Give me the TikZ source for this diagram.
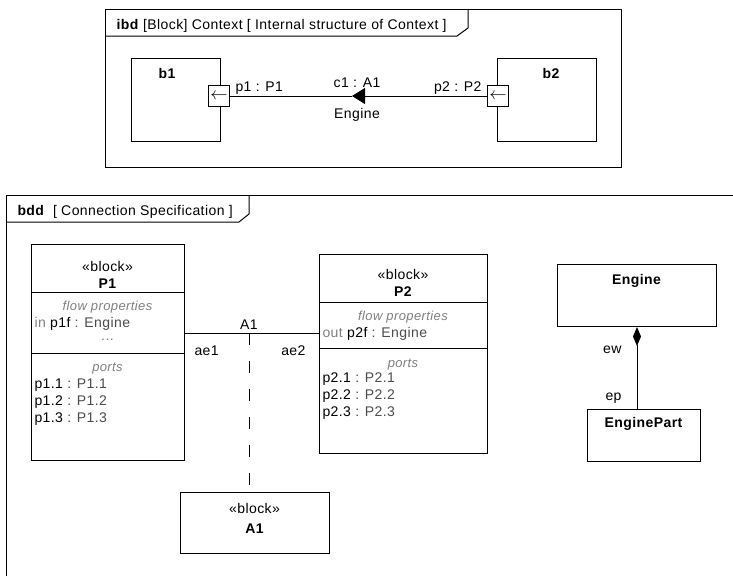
\documentclass[tikz,border=0pt]{standalone}
\usepackage{fontspec}
\setmainfont[LetterSpace=3]{Liberation Sans}
\usepackage{tikz}
\usetikzlibrary{arrows.meta}

\begin{document}
\begin{tikzpicture}[x=1pt, y=-1pt, line width=1pt, >={Triangle[length=13pt, width=16pt]}, every node/.style={font=\fontsize{14}{16}\selectfont, inner sep=0pt}, blk/.style={draw, anchor=north west}, bold/.style={font=\fontsize{14}{16}\selectfont\bfseries}, port/.style={draw, fill=white, minimum size=21pt, font=\fontsize{17}{17}\selectfont}, hdr/.style={font=\fontsize{13}{15}\selectfont\itshape, text=black!50}]
	\fill[white] (0,0) rectangle (733,576);
	\useasboundingbox (0,0) rectangle (733,576);
	\draw (105,9) rectangle (621,167);
	\draw (105,36) -- (457,36) -- (468,28) -- (468,9);
	\node[anchor=base west] (ibdt) at (116,29) {\textbf{ibd} [Block] Context [ Internal structure of Context ]};
	\node[blk, minimum width=89pt, minimum height=83pt] (b1) at (131,58) {};
	\node[blk, minimum width=99pt, minimum height=83pt] (b2) at (497,58) {};
	\node[bold, anchor=base] (b1t) at (167,78) {b1};
	\node[bold, anchor=base] (b2t) at (551,78) {b2};
	\node[port] (p1) at (219,96) {$\leftarrow$};
	\node[port] (p2) at (498,96) {$\leftarrow$};
	\coordinate (c1m) at (352,96);
	\draw[->] (p2) -- (c1m);
	\draw (c1m) -- (p1);
	\node[anchor=base west] (p1t) at (235,91) {p1 : P1};
	\node[anchor=base east] (p2t) at (482,91) {p2 : P2};
	\node[anchor=base] (c1t) at (357,87) {c1 : A1};
	\node[anchor=base] (engt) at (357,118) {Engine};
	\draw (6,576) -- (6,195) -- (733,195);
	\draw (6,222) -- (239,222) -- (249,214) -- (249,195);
	\node[anchor=base west] (bddt) at (17,215) {\textbf{bdd}\ \ [ Connection Specification ]};
	\node[blk, minimum width=153pt, minimum height=216pt] (P1) at (31,244) {};
	\draw (31,292) -- (184,292); \draw (31,353) -- (184,353);
	\node[anchor=base] (P1s) at (107.5,271) {«block»};
	\node[bold, anchor=base] (P1n) at (107.5,288) {P1};
	\node[hdr, anchor=base] (P1f) at (107.5,310) {flow properties};
	\node[anchor=base west] (P1fp) at (34,327) {\textcolor{black!50}{in} p1f \textcolor{black!70}{: Engine}};
	\node[anchor=base, text=black!50] (P1d) at (107.5,340) {...};
	\node[hdr, anchor=base] (P1p) at (107.5,371) {ports};
	\node[anchor=base west] (p11) at (34,388) {p1.1 \textcolor{black!70}{: P1.1}};
	\node[anchor=base west] (p12) at (34,405) {p1.2 \textcolor{black!70}{: P1.2}};
	\node[anchor=base west] (p13) at (34,422) {p1.3 \textcolor{black!70}{: P1.3}};
	\node[blk, minimum width=168pt, minimum height=199pt] (P2) at (319,254) {};
	\draw (319,302) -- (487,302); \draw (319,348) -- (487,348);
	\node[anchor=base] (P2s) at (403,279) {«block»};
	\node[bold, anchor=base] (P2n) at (403,296) {P2};
	\node[hdr, anchor=base] (P2f) at (403,320) {flow properties};
	\node[anchor=base west] (P2fp) at (322,337) {\textcolor{black!50}{out} p2f \textcolor{black!70}{: Engine}};
	\node[hdr, anchor=base] (P2p) at (403,367) {ports};
	\node[anchor=base west] (p21) at (322,382) {p2.1 \textcolor{black!70}{: P2.1}};
	\node[anchor=base west] (p22) at (322,399) {p2.2 \textcolor{black!70}{: P2.2}};
	\node[anchor=base west] (p23) at (322,416) {p2.3 \textcolor{black!70}{: P2.3}};
	\node[blk, minimum width=149pt, minimum height=61pt] (A1) at (180,492) {};
	\node[anchor=base] (A1s) at (254.5,513) {«block»};
	\node[bold, anchor=base] (A1n) at (254.5,533) {A1};
	\coordinate (a1m) at (249,333);
	\draw (P1.east |- a1m) -- (P2.west |- a1m);
	\draw[dash pattern=on 12pt off 16pt] (a1m) -- (a1m |- A1.north);
	\node[anchor=base] (a1t) at (249,329) {A1};
	\node[anchor=base west] (ae1) at (194,355) {ae1};
	\node[anchor=base east] (ae2) at (306,355) {ae2};
	\node[blk, minimum width=159pt, minimum height=62pt] (Eng) at (557,264) {};
	\node[bold, anchor=base] (Engn) at (636.5,284) {Engine};
	\node[blk, minimum width=113pt, minimum height=52pt] (EngP) at (587,409) {};
	\node[bold, anchor=base] (EngPn) at (643.5,427) {EnginePart};
	\draw[{Diamond[length=19pt, width=8pt]}-] (Eng.south) -- (Eng.south |- EngP.north);
	\node[anchor=base east] (ew) at (622,353) {ew};
	\node[anchor=base east] (ep) at (622,400) {ep};
\end{tikzpicture}
\end{document}
